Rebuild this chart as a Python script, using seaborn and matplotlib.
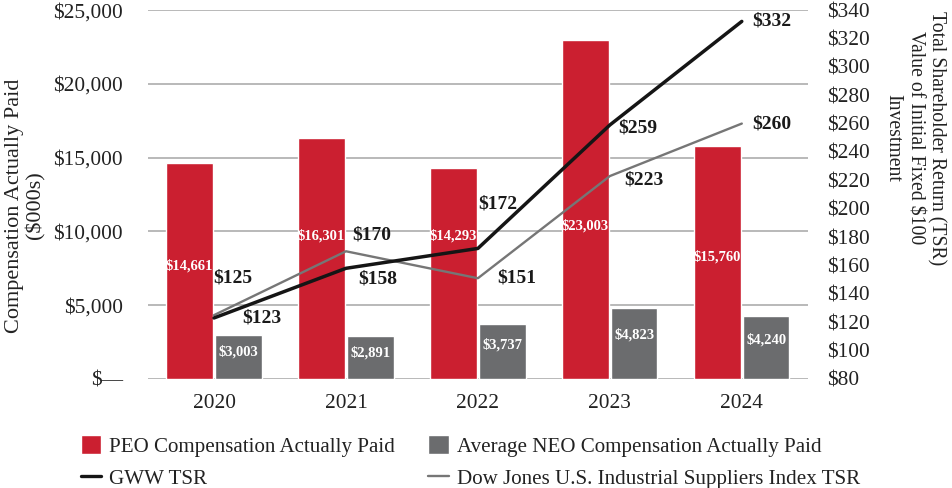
import numpy as np
import pandas as pd
import matplotlib
matplotlib.use("Agg")
import matplotlib.pyplot as plt
from matplotlib.patches import Patch
from matplotlib.lines import Line2D
import seaborn as sns

years = ["2020", "2021", "2022", "2023", "2024"]
peo_cap = [14661, 16301, 14293, 23003, 15760]
neo_cap = [3003, 2891, 3737, 4823, 4240]
gww_tsr = [123, 158, 172, 259, 332]
dj_tsr = [125, 170, 151, 223, 260]

peo_name = "PEO Compensation Actually Paid"
neo_name = "Average NEO Compensation Actually Paid"
gww_name = "GWW TSR"
dj_name = "Dow Jones U.S. Industrial Suppliers Index TSR"

RED = "#CB1F30"
GRAY = "#6B6C6E"
LINE_GRAY = "#767676"
TXT = "#222222"

sns.set_style("white")
plt.rcParams["font.family"] = ["Liberation Serif", "DejaVu Serif"]

bars = pd.DataFrame({
    "year": years * 2,
    "value": peo_cap + neo_cap,
    "series": [peo_name] * len(years) + [neo_name] * len(years),
})

fig = plt.figure(figsize=(9.52, 4.88), dpi=100)
ax = fig.add_axes([0.1555, 0.2234, 0.693, 0.756])

sns.barplot(data=bars, x="year", y="value", hue="series",
            palette=[RED, GRAY], width=0.74, gap=0.05, ax=ax, legend=False,
            saturation=1)

ax.set_ylim(0, 25000)
ax.set_xlim(-0.5, len(years) - 0.5)
ax.set_yticks(range(0, 25001, 5000))
ax.set_yticklabels(["$—"] + [f"${v:,}" for v in range(5000, 25001, 5000)])
ax.yaxis.grid(True, color="#A6A6A6", linewidth=1.1)
ax.set_axisbelow(True)
for s in ax.spines.values():
    s.set_visible(False)
ax.tick_params(axis="both", length=0, labelsize=15.4, colors=TXT)
ax.tick_params(axis="x", pad=11)
ax.tick_params(axis="y", pad=18)
ax.set_xlabel("")
ax.set_ylabel("Compensation Actually Paid\n($000s)", fontsize=16,
              color=TXT, linespacing=1.1, va="center", ha="center")
ax.yaxis.set_label_coords(-0.186, 0.47)

# value labels inside bars
peo_label_y = [7700, 9700, 9700, 10400, 8300]
for i, v in enumerate(peo_cap):
    ax.text(i - 0.185, peo_label_y[i], f"${v:,}", color="white",
            fontsize=10.5, fontweight="bold", ha="center", va="center")
for i, v in enumerate(neo_cap):
    ax.text(i + 0.185, v * 0.62, f"${v:,}", color="white",
            fontsize=10.5, fontweight="bold", ha="center", va="center")

# TSR lines on right axis
ax2 = ax.twinx()
xpos = np.arange(len(years))
sns.lineplot(x=xpos, y=dj_tsr, color=LINE_GRAY, linewidth=1.7, ax=ax2)
sns.lineplot(x=xpos, y=gww_tsr, color="#151515", linewidth=2.5, ax=ax2)
ax2.set_ylim(80, 340)
ax2.set_yticks(range(80, 341, 20))
ax2.set_yticklabels([f"${v}" for v in range(80, 341, 20)])
for s in ax2.spines.values():
    s.set_visible(False)
ax2.tick_params(axis="y", length=0, labelsize=15.4, colors=TXT, pad=14)
ax2.set_ylabel("Total Shareholder Return (TSR)\nValue of Initial Fixed $100\nInvestment",
               fontsize=14.2, color=TXT, rotation=270, linespacing=1.2,
               va="center", ha="center")
ax2.yaxis.set_label_coords(1.162, 0.653)
ax2.grid(False)

# TSR value labels, offsets in pixels
px = 0.72
gww_off = [(48, 0), (32, -11), (20, 44), (28, -3), (30, 0)]
dj_off = [(19, 37), (26, 16), (39, 0), (34, -4), (30, 0)]
for i in range(len(years)):
    ax2.annotate(f"${gww_tsr[i]}", (i, gww_tsr[i]),
                 xytext=(gww_off[i][0] * px, gww_off[i][1] * px),
                 textcoords="offset points", ha="center", va="center",
                 fontsize=14, fontweight="bold", color="#1a1a1a")
    ax2.annotate(f"${dj_tsr[i]}", (i, dj_tsr[i]),
                 xytext=(dj_off[i][0] * px, dj_off[i][1] * px),
                 textcoords="offset points", ha="center", va="center",
                 fontsize=14, fontweight="bold", color="#1a1a1a")

handles = [
    Patch(facecolor=RED, label=peo_name),
    Line2D([], [], color="#151515", linewidth=2.4, label=gww_name),
    Patch(facecolor=GRAY, label=neo_name),
    Line2D([], [], color=LINE_GRAY, linewidth=1.7, label=dj_name),
]
fig.legend(handles=handles, ncol=2, loc="upper left",
           bbox_to_anchor=(0.085, 0.108), frameon=False, fontsize=15.1,
           handlelength=0.96, handleheight=0.96, handletextpad=0.38,
           columnspacing=1.6, labelspacing=0.55, borderaxespad=0,
           borderpad=0, labelcolor=TXT)

fig.savefig("out.png", dpi=100)
